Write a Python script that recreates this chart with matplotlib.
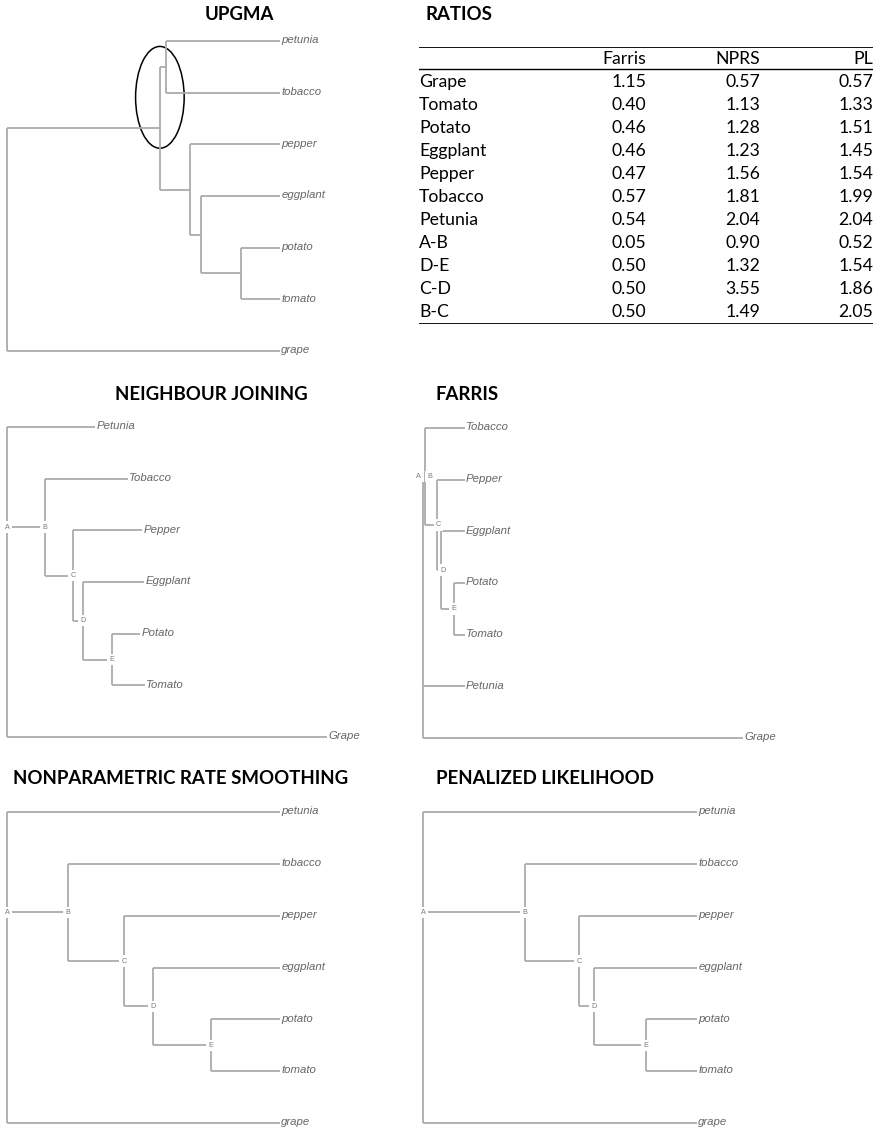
import matplotlib.pyplot as plt
from matplotlib.patches import Ellipse

W, H = 880, 1131
LINE = "#ababab"
TIP = "#666666"
NODE = "#7a7a7a"

# ---- trees: children of each internal node, depth of each node (root = 0, farthest tip = 1)
upgma_leaves = ["petunia", "tobacco", "pepper", "eggplant", "potato", "tomato", "grape"]
upgma_children = {"r": ["s", "grape"], "s": ["pt", "pe"], "pt": ["petunia", "tobacco"],
                  "pe": ["pepper", "eg"], "eg": ["eggplant", "po"], "po": ["potato", "tomato"]}
upgma_depth = {"r": 0, "s": 0.56, "pt": 0.582, "pe": 0.67, "eg": 0.711, "po": 0.857,
               "petunia": 1, "tobacco": 1, "pepper": 1, "eggplant": 1, "potato": 1,
               "tomato": 1, "grape": 1}

nj_leaves = ["Petunia", "Tobacco", "Pepper", "Eggplant", "Potato", "Tomato", "Grape"]
nj_children = {"A": ["Petunia", "B", "Grape"], "B": ["Tobacco", "C"], "C": ["Pepper", "D"],
               "D": ["Eggplant", "E"], "E": ["Potato", "Tomato"]}
nj_depth = {"A": 0, "B": 0.119, "C": 0.206, "D": 0.2375, "E": 0.328,
            "Petunia": 0.275, "Tobacco": 0.378, "Pepper": 0.422, "Eggplant": 0.428,
            "Potato": 0.416, "Tomato": 0.431, "Grape": 1}

farris_leaves = ["Tobacco", "Pepper", "Eggplant", "Potato", "Tomato", "Petunia", "Grape"]
farris_children = {"A": ["B", "Petunia", "Grape"], "B": ["Tobacco", "C"], "C": ["Pepper", "D"],
                   "D": ["Eggplant", "E"], "E": ["Potato", "Tomato"]}
farris_depth = {"A": 0, "B": 0.006, "C": 0.044, "D": 0.056, "E": 0.096,
                "Tobacco": 0.13, "Pepper": 0.13, "Eggplant": 0.13, "Potato": 0.13,
                "Tomato": 0.13, "Petunia": 0.13, "Grape": 1}

ultra_leaves = ["petunia", "tobacco", "pepper", "eggplant", "potato", "tomato", "grape"]
ultra_children = {"A": ["petunia", "B", "grape"], "B": ["tobacco", "C"], "C": ["pepper", "D"],
                  "D": ["eggplant", "E"], "E": ["potato", "tomato"]}
nprs_depth = {"A": 0, "B": 0.223, "C": 0.429, "D": 0.535, "E": 0.747}
pl_depth = {"A": 0, "B": 0.372, "C": 0.569, "D": 0.624, "E": 0.814}
for d in (nprs_depth, pl_depth):
    d.update({leaf: 1 for leaf in ultra_leaves})

# ---- ratio table
ratio_cols = ["Farris", "NPRS", "PL"]
ratio_rows = ["Grape", "Tomato", "Potato", "Eggplant", "Pepper", "Tobacco", "Petunia",
              "A-B", "D-E", "C-D", "B-C"]
farris_ratio = [1.15, 0.40, 0.46, 0.46, 0.47, 0.57, 0.54, 0.05, 0.50, 0.50, 0.50]
nprs_ratio = [0.57, 1.13, 1.28, 1.23, 1.56, 1.81, 2.04, 0.90, 1.32, 3.55, 1.49]
pl_ratio = [0.57, 1.33, 1.51, 1.45, 1.54, 1.99, 2.04, 0.52, 1.54, 1.86, 2.05]

fig = plt.figure(figsize=(W / 100, H / 100), dpi=100)


def px_axes(x0, x1, y0, y1):
    ax = fig.add_axes([x0 / W, 1 - y1 / H, (x1 - x0) / W, (y1 - y0) / H])
    ax.axis("off")
    return ax


def title(x, y, s, ha="center"):
    fig.text(x / W, 1 - y / H, s, ha=ha, va="center", fontsize=13.4,
             fontweight="bold", family="Lato")


def draw_tree(ax, children, depth, leaves, root, show_nodes, shift=None):
    shift = shift or {}
    ypos = {name: i for i, name in enumerate(leaves)}

    def place(n):
        if n in ypos:
            return ypos[n]
        ys = [place(c) for c in children[n]]
        if len(ys) > 2:
            inner = [c for c in children[n] if c in children]
            ypos[n] = ypos[inner[0]]
        else:
            ypos[n] = (ys[0] + ys[-1]) / 2
        return ypos[n]

    place(root)
    for n, kids in children.items():
        ys = [ypos[c] for c in kids]
        ax.plot([depth[n], depth[n]], [min(ys), max(ys)], color=LINE, lw=1.3,
                solid_capstyle="butt", clip_on=False)
        for c in kids:
            ax.plot([depth[n], depth[c]], [ypos[c], ypos[c]], color=LINE, lw=1.3,
                    solid_capstyle="butt", clip_on=False)
    for name in leaves:
        ax.annotate(name, (depth[name], ypos[name]), xytext=(1, 0.5),
                    textcoords="offset points", va="center", ha="left",
                    fontsize=8.2, style="italic", color=TIP, family="Liberation Sans")
    if show_nodes:
        for n in children:
            ax.annotate(n, (depth[n], ypos[n]), xytext=(shift.get(n, 0), 0),
                        textcoords="offset points", ha="center", va="center",
                        fontsize=5.2, color=NODE, family="Liberation Sans", zorder=4,
                        bbox=dict(facecolor="white", edgecolor="none", pad=1.6))
    ax.set_xlim(0, 1)
    ax.set_ylim(len(leaves) - 1, 0)


# UPGMA
ax = px_axes(7, 280, 41, 351)
draw_tree(ax, upgma_children, upgma_depth, upgma_leaves, "r", False)
ax.add_patch(Ellipse((0.56, 1.09), 0.178, 1.97, fill=False, ec="black", lw=1.1,
                     clip_on=False))
title(239, 15, "UPGMA")

# ratios table
title(425, 15, "RATIOS", ha="left")
tx = px_axes(419, 873, 47, 324)
tx.set_xlim(0, 1)
tx.set_ylim(12, 0)
tx.axhline(0, color="black", lw=1.3)
tx.axhline(0.95, color="black", lw=1.0)
tx.axhline(12, color="black", lw=1.3)
col_x = [0.5, 0.751, 1.0]
for cx, name in zip(col_x, ratio_cols):
    tx.text(cx, 0.5, name, ha="right", va="center", fontsize=12.7, family="Lato")
for i, row in enumerate(ratio_rows):
    y = 1.5 + i
    tx.text(0.0, y, row, ha="left", va="center", fontsize=12.7, family="Lato")
    for cx, vals in zip(col_x, (farris_ratio, nprs_ratio, pl_ratio)):
        tx.text(cx, y, f"{vals[i]:.2f}", ha="right", va="center", fontsize=12.7,
                family="Lato")

# neighbour joining
ax = px_axes(7, 327, 427, 737)
draw_tree(ax, nj_children, nj_depth, nj_leaves, "A", True)
title(211, 394, "NEIGHBOUR JOINING")

# Farris
ax = px_axes(423, 743, 428, 738)
draw_tree(ax, farris_children, farris_depth, farris_leaves, "A", True,
          shift={"A": -3, "B": 3.5, "C": 1, "D": 1.5})
title(435, 394, "FARRIS", ha="left")

# NPRS
ax = px_axes(7, 280, 812, 1123)
draw_tree(ax, ultra_children, nprs_depth, ultra_leaves, "A", True)
title(181, 779, "NONPARAMETRIC RATE SMOOTHING")

# penalized likelihood
ax = px_axes(423, 697, 812, 1123)
draw_tree(ax, ultra_children, pl_depth, ultra_leaves, "A", True)
title(436, 779, "PENALIZED LIKELIHOOD", ha="left")

fig.savefig("out.png", dpi=100)
